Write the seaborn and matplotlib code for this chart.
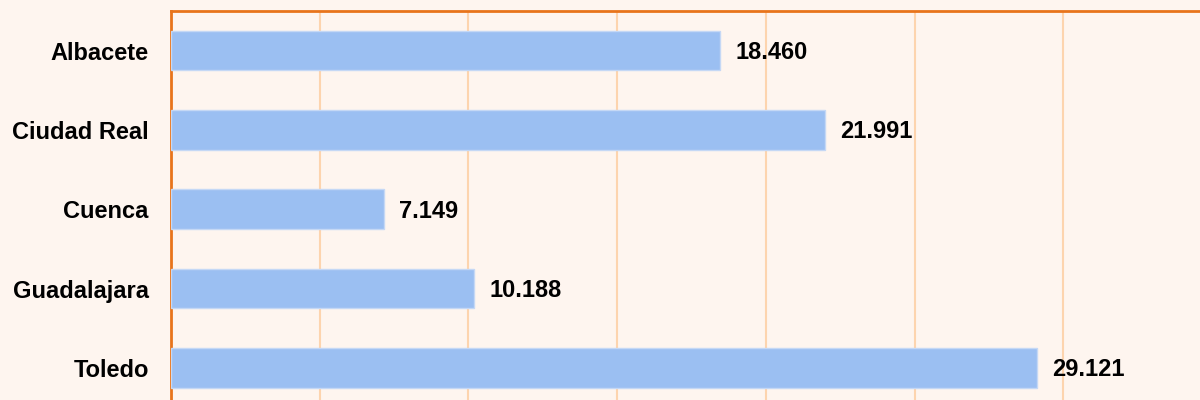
import matplotlib
matplotlib.use("Agg")
import matplotlib.pyplot as plt
import seaborn as sns
import pandas as pd
from matplotlib.ticker import MultipleLocator

provincias = ["Albacete", "Ciudad Real", "Cuenca", "Guadalajara", "Toledo"]
valores = [18460, 21991, 7149, 10188, 29121]
etiquetas = ["18.460", "21.991", "7.149", "10.188", "29.121"]

df = pd.DataFrame({"provincia": provincias, "valor": valores})

sns.set_theme(style="white")
plt.rcParams["font.family"] = ["Liberation Sans", "DejaVu Sans"]

bg = "#FEF5EF"
fig = plt.figure(figsize=(12, 4), dpi=100, facecolor=bg)
# axes extends beyond the canvas on the right and bottom (cropped view)
ax = fig.add_axes([171 / 1200, 1 - 407.5 / 400, (1212 - 171) / 1200, 396.5 / 400])
ax.set_facecolor(bg)

sns.barplot(data=df, x="valor", y="provincia", orient="h", color="#9BBFF2",
            saturation=1, width=0.5, edgecolor="#C5D8F5", linewidth=1.0,
            ax=ax, zorder=3)

ax.set_xlim(0, 35000)
ax.set_ylim(4.5, -0.5)
ax.xaxis.set_major_locator(MultipleLocator(5000))
ax.grid(axis="x", color="#FDD4AE", linewidth=1.5, zorder=0)
ax.grid(axis="y", visible=False)
ax.set_axisbelow(True)

for s in ax.spines.values():
    s.set_color("#E8741C")
    s.set_linewidth(2)
    s.set_visible(True)

ax.set_xlabel("")
ax.set_ylabel("")
ax.tick_params(axis="y", length=0, pad=16, labelsize=17)
for t in ax.get_yticklabels():
    t.set_fontweight("bold")
    t.set_color("black")
ax.tick_params(axis="x", length=0, labelbottom=False)

for i, (v, lab) in enumerate(zip(valores, etiquetas)):
    ax.annotate(lab, xy=(v, i), xytext=(15, -2), textcoords="offset pixels",
                ha="left", va="center", fontsize=17, fontweight="bold",
                color="black")

fig.savefig("out.png", dpi=100, facecolor=bg)
